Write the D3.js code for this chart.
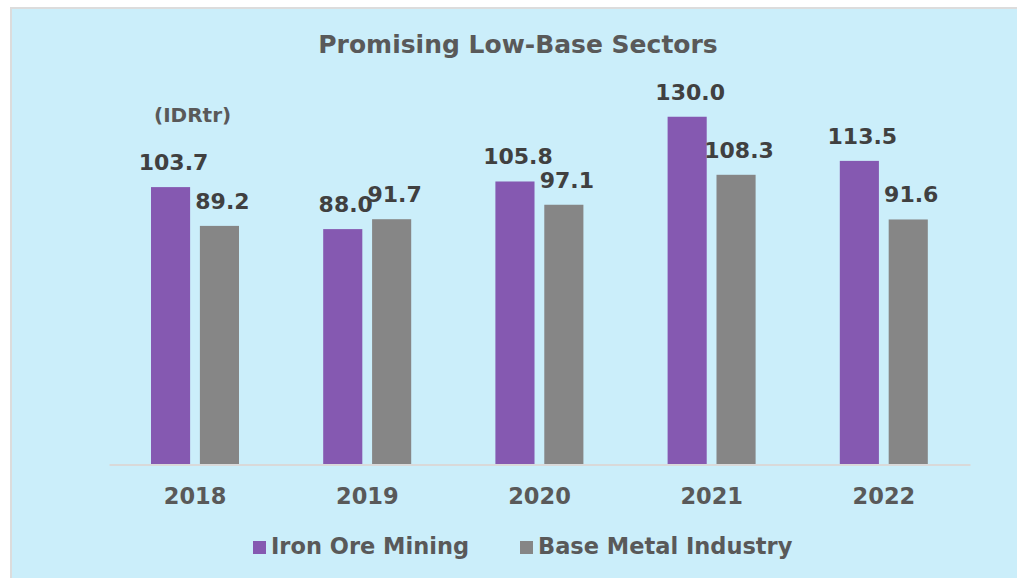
<!DOCTYPE html>
<html>
<head>
<meta charset="utf-8">
<script src="https://cdn.jsdelivr.net/npm/d3@7"></script>
<style>
  body { margin: 0; background: #fff; }
  svg { display: block; font-family: "DejaVu Sans", Verdana, sans-serif; }
</style>
</head>
<body>
<div id="chart"></div>
<script>
// Data
const years = ['2018', '2019', '2020', '2021', '2022'];
const ironOre = [103.7, 88.0, 105.8, 130.0, 113.5];
const baseMetal = [89.2, 91.7, 97.1, 108.3, 91.6];
const seriesNames = ['Iron Ore Mining', 'Base Metal Industry'];
const seriesColors = ['#8559b1', '#868686'];

const width = 1017, height = 578;
const baseY = 464.5;
const svg = d3.select('#chart').append('svg')
    .attr('width', width).attr('height', height);

// panel
svg.append('rect').attr('x', 10).attr('y', 7)
    .attr('width', width - 10).attr('height', height - 7)
    .style('fill', '#cbeefa');
svg.append('path').attr('d', `M11,${height} V8 H${width}`)
    .style('fill', 'none').style('stroke', '#dcdcdc').style('stroke-width', 2);

// scales
const xScale = d3.scaleBand().domain(years).range([109, 970]).padding(0);
const yScale = d3.scaleLinear().domain([0, 140]).range([baseY, baseY - 140 * 2.675]);
const inner = d3.scaleBand().domain([0, 1]).range([42, 130]).paddingInner(0.2);

const data = years.map((y, i) => ({ year: y, values: [ironOre[i], baseMetal[i]] }));

const groups = svg.selectAll('.grp').data(data).enter()
    .append('g').attr('class', 'grp')
    .attr('transform', d => `translate(${xScale(d.year)},0)`);

groups.selectAll('rect').data(d => d.values).enter()
    .append('rect')
    .attr('x', (d, i) => inner(i))
    .attr('y', d => yScale(d))
    .attr('width', inner.bandwidth())
    .attr('height', d => baseY - yScale(d))
    .style('fill', (d, i) => seriesColors[i]);

groups.selectAll('.val').data(d => d.values).enter()
    .append('text').attr('class', 'val')
    .attr('x', (d, i) => inner(i) + inner.bandwidth() / 2 + 3)
    .attr('y', d => yScale(d) - 17)
    .attr('text-anchor', 'middle')
    .style('font-size', '22px').style('font-weight', 'bold').style('fill', '#404040')
    .text(d => d.toFixed(1));

// x axis
const xAxis = d3.axisBottom(xScale).tickSize(0).tickPadding(24);
const xAxisDraw = svg.append('g')
    .attr('transform', `translate(0,${baseY})`)
    .call(xAxis);
xAxisDraw.select('.domain').style('stroke', '#d9d9d9').style('stroke-width', 2);
xAxisDraw.selectAll('text')
    .style('font-family', '"DejaVu Sans", Verdana, sans-serif')
    .style('font-size', '22.5px').style('font-weight', 'bold').style('fill', '#595959');

// title
svg.append('text').attr('x', 518).attr('y', 53)
    .attr('text-anchor', 'middle')
    .style('font-size', '25px').style('font-weight', 'bold').style('fill', '#595959')
    .text('Promising Low-Base Sectors');

svg.append('text').attr('x', 154).attr('y', 122)
    .style('font-size', '20px').style('font-weight', 'bold').style('fill', '#595959')
    .text('(IDRtr)');

// legend
const legendX = [253, 520];
const legend = svg.selectAll('.leg').data(seriesNames).enter()
    .append('g').attr('class', 'leg')
    .attr('transform', (d, i) => `translate(${legendX[i]},541)`);
legend.append('rect').attr('width', 13).attr('height', 13)
    .style('fill', (d, i) => seriesColors[i]);
legend.append('text').attr('x', 18).attr('y', 13)
    .style('font-size', '22.5px').style('font-weight', 'bold').style('fill', '#595959')
    .text(d => d);
</script>
</body>
</html>
